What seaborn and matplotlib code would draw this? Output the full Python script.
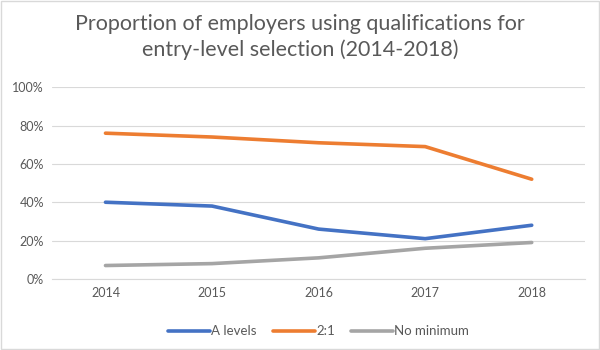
import pandas as pd
import matplotlib
matplotlib.use("Agg")
import matplotlib.pyplot as plt
import seaborn as sns
from matplotlib.ticker import FuncFormatter

years = ["2014", "2015", "2016", "2017", "2018"]
a_levels = [40, 38, 26, 21, 28]
two_one = [76, 74, 71, 69, 52]
no_minimum = [7, 8, 11, 16, 19]

series = {"A levels": a_levels, "2:1": two_one, "No minimum": no_minimum}
frames = []
for name, vals in series.items():
    frames.append(pd.DataFrame({"Year": years, "Value": vals, "Series": name}))
df = pd.concat(frames)

sns.set_style("white")
plt.rcParams['font.family'] = ['Lato', 'DejaVu Sans']

palette = {"A levels": "#4472C4", "2:1": "#ED7D31", "No minimum": "#A5A5A5"}

fig = plt.figure(figsize=(6, 3.5), dpi=100)
ax = fig.add_axes([0.087, 0.203, 0.888, 0.548])
sns.lineplot(data=df, x="Year", y="Value", hue="Series", palette=palette,
             linewidth=2.6, ax=ax, sort=False)

ax.set_xlim(-0.5, 4.5)
ax.set_ylim(0, 100)
ax.set_yticks([0, 20, 40, 60, 80, 100])
ax.yaxis.set_major_formatter(FuncFormatter(lambda v, p: f"{int(v)}%"))
ax.grid(axis="y", color="#D9D9D9", linewidth=0.8)
ax.set_axisbelow(True)
for s in ["top", "right", "left"]:
    ax.spines[s].set_visible(False)
ax.spines["bottom"].set_color("#D9D9D9")
ax.tick_params(axis="both", length=0, labelsize=9, labelcolor="#595959", pad=6)
ax.set_xlabel("")
ax.set_ylabel("")

leg = ax.legend(loc="upper center", bbox_to_anchor=(0.5, -0.18), ncol=3,
                frameon=False, fontsize=9.5, handlelength=3.2, handletextpad=0.1,
                columnspacing=1.2)
for t in leg.get_texts():
    t.set_color("#595959")

fig.text(0.5, 0.895, "Proportion of employers using qualifications for\nentry-level selection (2014-2018)",
         ha="center", va="center", fontsize=15.5, color="#595959", linespacing=1.3)

border = plt.Rectangle((0.002, 0.002), 0.996, 0.996, transform=fig.transFigure,
                       fill=False, edgecolor="#D9D9D9", linewidth=1)
fig.patches.append(border)

fig.savefig("out.png", dpi=100)
